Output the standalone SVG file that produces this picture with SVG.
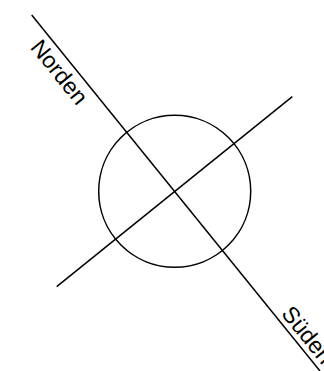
<svg xmlns="http://www.w3.org/2000/svg" width="324" height="371" viewBox="0 0 324 371">
<style>
.ln{stroke:#000;stroke-width:1.5;fill:none}
.lbl{font-family:"Liberation Sans",Arial,sans-serif;font-size:23px;fill:#000}
</style>
<rect width="324" height="371" fill="#fff"/>
<g id="connectors">
<line class="ln" x1="31.7" y1="15" x2="320" y2="371"/>
<line class="ln" x1="56.7" y1="286.7" x2="292.3" y2="96.7"/>
</g>
<g id="circle">
<circle class="ln" cx="174.7" cy="191.3" r="76"/>
</g>
<g id="norden">
<text class="lbl" transform="translate(29.5,47.7) rotate(51)">Norden</text>
</g>
<g id="sueden">
<text class="lbl" transform="translate(280.5,314) rotate(51)">Süden</text>
</g>
</svg>
